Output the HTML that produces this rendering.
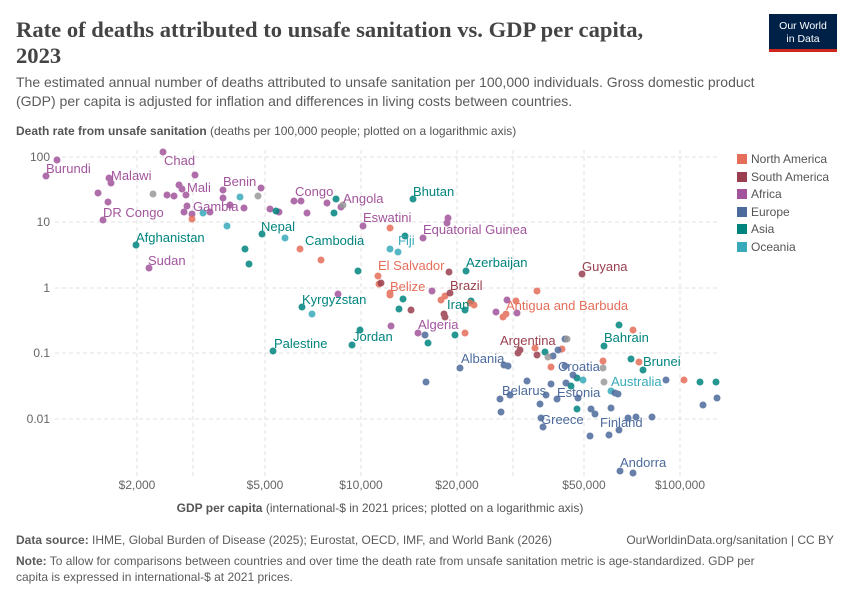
<!DOCTYPE html>
<html><head><meta charset="utf-8"><style>
body{margin:0;background:#fff;width:850px;height:600px;overflow:hidden;font-family:"Liberation Sans",sans-serif;}
</style></head><body>
<svg width="850" height="600" viewBox="0 0 850 600" xmlns="http://www.w3.org/2000/svg" font-family="Liberation Sans, sans-serif">
<text x="16" y="37" font-family="Liberation Serif, serif" font-size="22.6" font-weight="bold" fill="#444">Rate of deaths attributed to unsafe sanitation vs. GDP per capita,</text>
<text x="16" y="63" font-family="Liberation Serif, serif" font-size="22.6" font-weight="bold" fill="#444">2023</text>
<text x="16" y="87" font-size="14" fill="#5b5b5b">The estimated annual number of deaths attributed to unsafe sanitation per 100,000 individuals. Gross domestic product</text>
<text x="16" y="106" font-size="14" fill="#5b5b5b">(GDP) per capita is adjusted for inflation and differences in living costs between countries.</text>
<rect x="769" y="14" width="68" height="38" fill="#002147"/>
<rect x="769" y="49" width="68" height="3" fill="#ce261e"/>
<text x="803" y="29" font-size="10.5" fill="#fff" text-anchor="middle">Our World</text>
<text x="803" y="42" font-size="10.5" fill="#fff" text-anchor="middle">in Data</text>
<text x="16" y="135" font-size="12" fill="#555"><tspan font-weight="bold">Death rate from unsafe sanitation</tspan> (deaths per 100,000 people; plotted on a logarithmic axis)</text>
<g stroke="#e0e0e0" stroke-dasharray="4,3" stroke-width="1">
<line x1="55" x2="720" y1="157" y2="157"/><line x1="55" x2="720" y1="222" y2="222"/><line x1="55" x2="720" y1="288" y2="288"/><line x1="55" x2="720" y1="353" y2="353"/><line x1="55" x2="720" y1="419" y2="419"/>
<line x1="137" x2="137" y1="150" y2="476"/><line x1="193" x2="193" y1="150" y2="476"/><line x1="265" x2="265" y1="150" y2="476"/><line x1="361" x2="361" y1="150" y2="476"/><line x1="457" x2="457" y1="150" y2="476"/><line x1="513" x2="513" y1="150" y2="476"/><line x1="584" x2="584" y1="150" y2="476"/><line x1="680" x2="680" y1="150" y2="476"/>
</g>
<g font-size="12" fill="#666" text-anchor="end">
<text x="50" y="161">100</text><text x="50" y="226">10</text><text x="50" y="292">1</text><text x="50" y="357">0.1</text><text x="50" y="423">0.01</text>
</g>
<g font-size="12" fill="#666" text-anchor="middle">
<text x="137" y="489">$2,000</text><text x="265" y="489">$5,000</text><text x="361" y="489">$10,000</text><text x="457" y="489">$20,000</text><text x="584" y="489">$50,000</text><text x="680" y="489">$100,000</text>
</g>
<text x="380" y="512" font-size="12" fill="#555" text-anchor="middle"><tspan font-weight="bold">GDP per capita</tspan> (international-$ in 2021 prices; plotted on a logarithmic axis)</text>
<g fill="#a2559c" opacity="0.85">
<circle cx="46" cy="176" r="3.5"/><circle cx="57" cy="160" r="3.5"/><circle cx="109" cy="178" r="3.5"/><circle cx="111" cy="183" r="3.5"/><circle cx="98" cy="193" r="3.5"/><circle cx="108" cy="202" r="3.5"/><circle cx="103" cy="220" r="3.5"/><circle cx="149" cy="268" r="3.5"/><circle cx="163" cy="152" r="3.5"/><circle cx="195" cy="175" r="3.5"/><circle cx="179" cy="185" r="3.5"/><circle cx="182" cy="189" r="3.5"/><circle cx="186" cy="195" r="3.5"/><circle cx="174" cy="196" r="3.5"/><circle cx="167" cy="195" r="3.5"/><circle cx="187" cy="206" r="3.5"/><circle cx="184" cy="212" r="3.5"/><circle cx="192" cy="214" r="3.5"/><circle cx="223" cy="190" r="3.5"/><circle cx="223" cy="198" r="3.5"/><circle cx="210" cy="212" r="3.5"/><circle cx="230" cy="205" r="3.5"/><circle cx="244" cy="208" r="3.5"/><circle cx="261" cy="188" r="3.5"/><circle cx="270" cy="209" r="3.5"/><circle cx="279" cy="212" r="3.5"/><circle cx="294" cy="201" r="3.5"/><circle cx="301" cy="201" r="3.5"/><circle cx="307" cy="213" r="3.5"/><circle cx="327" cy="203" r="3.5"/><circle cx="341" cy="207" r="3.5"/><circle cx="363" cy="226" r="3.5"/><circle cx="448" cy="218" r="3.5"/><circle cx="447" cy="223" r="3.5"/><circle cx="423" cy="238" r="3.5"/><circle cx="391" cy="326" r="3.5"/><circle cx="418" cy="333" r="3.5"/><circle cx="432" cy="291" r="3.5"/><circle cx="507" cy="300" r="3.5"/><circle cx="517" cy="313" r="3.5"/><circle cx="496" cy="312" r="3.5"/><circle cx="338" cy="294" r="3.5"/>
</g>
<g fill="#00847e" opacity="0.85">
<circle cx="136" cy="245" r="3.5"/><circle cx="245" cy="249" r="3.5"/><circle cx="249" cy="264" r="3.5"/><circle cx="262" cy="234" r="3.5"/><circle cx="276" cy="211" r="3.5"/><circle cx="336" cy="199" r="3.5"/><circle cx="334" cy="213" r="3.5"/><circle cx="413" cy="199" r="3.5"/><circle cx="358" cy="271" r="3.5"/><circle cx="273" cy="351" r="3.5"/><circle cx="302" cy="307" r="3.5"/><circle cx="352" cy="345" r="3.5"/><circle cx="360" cy="330" r="3.5"/><circle cx="403" cy="299" r="3.5"/><circle cx="399" cy="309" r="3.5"/><circle cx="405" cy="236" r="3.5"/><circle cx="466" cy="271" r="3.5"/><circle cx="465" cy="310" r="3.5"/><circle cx="471" cy="301" r="3.5"/><circle cx="428" cy="343" r="3.5"/><circle cx="455" cy="335" r="3.5"/><circle cx="545" cy="352" r="3.5"/><circle cx="577" cy="409" r="3.5"/><circle cx="577" cy="378" r="3.5"/><circle cx="619" cy="325" r="3.5"/><circle cx="604" cy="346" r="3.5"/><circle cx="631" cy="359" r="3.5"/><circle cx="643" cy="370" r="3.5"/><circle cx="700" cy="382" r="3.5"/><circle cx="716" cy="382" r="3.5"/><circle cx="571" cy="386" r="3.5"/>
</g>
<g fill="#38aaba" opacity="0.85">
<circle cx="227" cy="226" r="3.5"/><circle cx="240" cy="197" r="3.5"/><circle cx="285" cy="238" r="3.5"/><circle cx="312" cy="314" r="3.5"/><circle cx="390" cy="249" r="3.5"/><circle cx="398" cy="252" r="3.5"/><circle cx="583" cy="380" r="3.5"/><circle cx="611" cy="391" r="3.5"/><circle cx="203" cy="213" r="3.5"/>
</g>
<g fill="#e56e5a" opacity="0.85">
<circle cx="192" cy="219" r="3.5"/><circle cx="300" cy="249" r="3.5"/><circle cx="321" cy="260" r="3.5"/><circle cx="378" cy="276" r="3.5"/><circle cx="379" cy="284" r="3.5"/><circle cx="390" cy="228" r="3.5"/><circle cx="390" cy="293" r="3.5"/><circle cx="390" cy="295" r="3.5"/><circle cx="441" cy="300" r="3.5"/><circle cx="445" cy="296" r="3.5"/><circle cx="465" cy="333" r="3.5"/><circle cx="470" cy="303" r="3.5"/><circle cx="474" cy="305" r="3.5"/><circle cx="506" cy="314" r="3.5"/><circle cx="516" cy="301" r="3.5"/><circle cx="537" cy="291" r="3.5"/><circle cx="535" cy="348" r="3.5"/><circle cx="562" cy="349" r="3.5"/><circle cx="603" cy="361" r="3.5"/><circle cx="633" cy="330" r="3.5"/><circle cx="639" cy="362" r="3.5"/><circle cx="684" cy="380" r="3.5"/><circle cx="503" cy="317" r="3.5"/><circle cx="551" cy="367" r="3.5"/>
</g>
<g fill="#9a3f4f" opacity="0.85">
<circle cx="449" cy="272" r="3.5"/><circle cx="450" cy="293" r="3.5"/><circle cx="520" cy="350" r="3.5"/><circle cx="518" cy="353" r="3.5"/><circle cx="582" cy="274" r="3.5"/><circle cx="445" cy="317" r="3.5"/><circle cx="411" cy="310" r="3.5"/><circle cx="381" cy="283" r="3.5"/><circle cx="444" cy="314" r="3.5"/><circle cx="537" cy="355" r="3.5"/>
</g>
<g fill="#4c6a9c" opacity="0.85">
<circle cx="426" cy="382" r="3.5"/><circle cx="460" cy="368" r="3.5"/><circle cx="504" cy="365" r="3.5"/><circle cx="500" cy="399" r="3.5"/><circle cx="501" cy="412" r="3.5"/><circle cx="527" cy="381" r="3.5"/><circle cx="551" cy="384" r="3.5"/><circle cx="540" cy="404" r="3.5"/><circle cx="557" cy="399" r="3.5"/><circle cx="543" cy="427" r="3.5"/><circle cx="566" cy="383" r="3.5"/><circle cx="565" cy="366" r="3.5"/><circle cx="553" cy="356" r="3.5"/><circle cx="558" cy="350" r="3.5"/><circle cx="573" cy="375" r="3.5"/><circle cx="578" cy="398" r="3.5"/><circle cx="591" cy="409" r="3.5"/><circle cx="595" cy="414" r="3.5"/><circle cx="611" cy="408" r="3.5"/><circle cx="609" cy="435" r="3.5"/><circle cx="619" cy="430" r="3.5"/><circle cx="590" cy="436" r="3.5"/><circle cx="636" cy="417" r="3.5"/><circle cx="652" cy="417" r="3.5"/><circle cx="666" cy="380" r="3.5"/><circle cx="703" cy="405" r="3.5"/><circle cx="717" cy="398" r="3.5"/><circle cx="620" cy="471" r="3.5"/><circle cx="633" cy="473" r="3.5"/><circle cx="615" cy="393" r="3.5"/><circle cx="618" cy="394" r="3.5"/><circle cx="565" cy="339" r="3.5"/><circle cx="546" cy="395" r="3.5"/><circle cx="541" cy="418" r="3.5"/><circle cx="628" cy="418" r="3.5"/><circle cx="510" cy="395" r="3.5"/><circle cx="508" cy="366" r="3.5"/><circle cx="425" cy="335" r="3.5"/></g>
<g fill="#999" opacity="0.85">
<circle cx="153" cy="194" r="3.5"/><circle cx="258" cy="196" r="3.5"/><circle cx="567" cy="339" r="3.5"/><circle cx="603" cy="368" r="3.5"/><circle cx="604" cy="382" r="3.5"/><circle cx="343" cy="205" r="3.5"/><circle cx="548" cy="357" r="3.5"/></g>
<g font-size="13">
<g fill="#a2559c"><text x="46" y="173">Burundi</text><text x="111" y="180">Malawi</text><text x="103" y="217">DR Congo</text><text x="148" y="265">Sudan</text><text x="164" y="165">Chad</text><text x="187" y="192">Mali</text><text x="193" y="211">Gambia</text><text x="223" y="186">Benin</text><text x="295" y="196">Congo</text><text x="343" y="203">Angola</text><text x="363" y="222">Eswatini</text><text x="423" y="234">Equatorial Guinea</text><text x="418" y="329">Algeria</text></g>
<g fill="#00847e"><text x="136" y="242">Afghanistan</text><text x="261" y="231">Nepal</text><text x="305" y="245">Cambodia</text><text x="413" y="196">Bhutan</text><text x="466" y="267">Azerbaijan</text><text x="302" y="304">Kyrgyzstan</text><text x="447" y="309">Iran</text><text x="353" y="341">Jordan</text><text x="274" y="348">Palestine</text><text x="604" y="342">Bahrain</text><text x="643" y="366">Brunei</text></g>
<g fill="#38aaba"><text x="398" y="245">Fiji</text><text x="611" y="386">Australia</text></g>
<g fill="#e56e5a"><text x="378" y="270">El Salvador</text><text x="390" y="291">Belize</text><text x="506" y="310">Antigua and Barbuda</text></g>
<g fill="#9a3f4f"><text x="450" y="290">Brazil</text><text x="500" y="345">Argentina</text><text x="582" y="271">Guyana</text></g>
<g fill="#4c6a9c"><text x="461" y="363">Albania</text><text x="558" y="371">Croatia</text><text x="502" y="395">Belarus</text><text x="557" y="397">Estonia</text><text x="541" y="424">Greece</text><text x="600" y="427">Finland</text><text x="620" y="467">Andorra</text></g>
</g>
<g font-size="12" fill="#555">
<rect x="737" y="154" width="10" height="10" fill="#e56e5a"/><text x="751" y="163">North America</text>
<rect x="737" y="172" width="10" height="10" fill="#9a3f4f"/><text x="751" y="181">South America</text>
<rect x="737" y="189" width="10" height="10" fill="#a2559c"/><text x="751" y="198">Africa</text>
<rect x="737" y="207" width="10" height="10" fill="#4c6a9c"/><text x="751" y="216">Europe</text>
<rect x="737" y="224" width="10" height="10" fill="#00847e"/><text x="751" y="233">Asia</text>
<rect x="737" y="242" width="10" height="10" fill="#38aaba"/><text x="751" y="251">Oceania</text>
</g>
<text x="16" y="544" font-size="12" fill="#5b5b5b"><tspan font-weight="bold">Data source:</tspan> IHME, Global Burden of Disease (2025); Eurostat, OECD, IMF, and World Bank (2026)</text>
<text x="834" y="544" font-size="12" fill="#5b5b5b" text-anchor="end">OurWorldinData.org/sanitation | CC BY</text>
<text x="16" y="565" font-size="12" fill="#5b5b5b"><tspan font-weight="bold">Note:</tspan> To allow for comparisons between countries and over time the death rate from unsafe sanitation metric is age-standardized. GDP per</text>
<text x="16" y="581" font-size="12" fill="#5b5b5b">capita is expressed in international-$ at 2021 prices.</text>
</svg>
</body></html>
